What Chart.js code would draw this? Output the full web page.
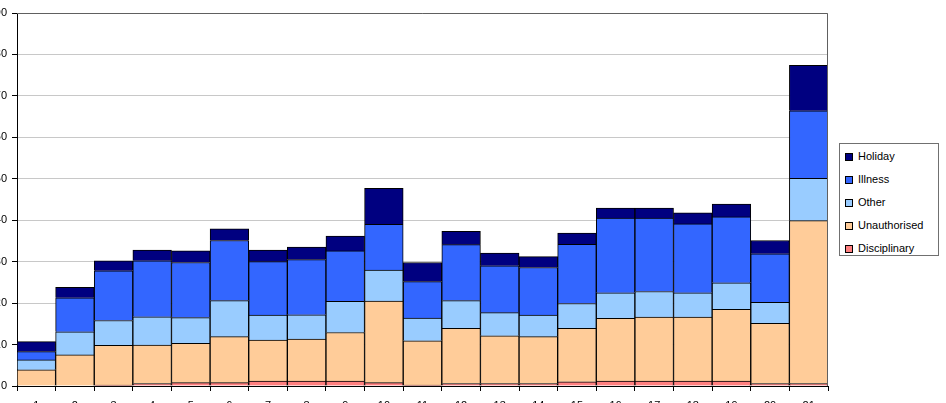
<!DOCTYPE html>
<html>
<head>
<meta charset="utf-8">
<script src="https://cdn.jsdelivr.net/npm/chart.js@4.4.0/dist/chart.umd.min.js"></script>
<style>
  html, body { margin: 0; padding: 0; background: #fff; }
  #wrap { position: relative; width: 946px; height: 403px; overflow: hidden; background: #fff; }
  #wrap canvas { position: absolute; left: -30px; top: 0; }
  #legend { position: absolute; left: 839px; top: 143px; width: 100px; height: 113px; border: 1px solid #707070; background: #fff;
            font: 11px "Liberation Sans", Arial, sans-serif; color: #000; box-sizing: border-box; padding-top: 6px; }
  #legend div { height: 23px; line-height: 13px; display: flex; align-items: flex-start; }
  #legend span.sw { display: inline-block; width: 6px; height: 6px; border: 1px solid #000; margin: 3px 5px 0 5px; }
</style>
</head>
<body>
<div id="wrap">
  <canvas id="chart" width="976" height="430"></canvas>
  <div id="legend"></div>
</div>
<script>
const categories = ['1','2','3','4','5','6','7','8','9','10','11','12','13','14','15','16','17','18','19','20','21'];
const disciplinary = [0, 0, 0.2, 0.6, 0.8, 0.8, 1.2, 1.2, 1.2, 0.8, 0.2, 0.6, 0.6, 0.6, 1.0, 1.2, 1.2, 1.2, 1.2, 0.6, 0.6];
const unauthorised = [3.9, 7.5, 9.6, 9.3, 9.5, 11.1, 9.9, 10.1, 11.7, 19.7, 10.7, 13.3, 11.5, 11.3, 12.9, 15.1, 15.4, 15.4, 17.3, 14.5, 39.3];
const other = [2.4, 5.6, 6.0, 6.8, 6.2, 8.7, 6.0, 5.9, 7.5, 7.5, 5.5, 6.7, 5.6, 5.2, 6.0, 6.2, 6.2, 5.9, 6.4, 5.1, 10.2];
const illness = [2.0, 8.2, 12.0, 13.5, 13.3, 14.5, 12.9, 13.3, 12.2, 11.0, 8.8, 13.5, 11.3, 11.5, 14.3, 18.0, 17.7, 16.6, 15.9, 11.7, 16.3];
const holiday = [2.4, 2.5, 2.4, 2.6, 2.8, 2.8, 2.8, 3.0, 3.6, 8.7, 4.6, 3.2, 3.1, 2.6, 2.7, 2.4, 2.4, 2.7, 3.1, 3.2, 11.0];
const yTicks = [0, 10, 20, 30, 40, 50, 60, 70, 80, 90];

const series = [
  { label: 'Disciplinary', data: disciplinary, color: '#FF8080' },
  { label: 'Unauthorised', data: unauthorised, color: '#FFCC99' },
  { label: 'Other', data: other, color: '#99CCFF' },
  { label: 'Illness', data: illness, color: '#3366FF' },
  { label: 'Holiday', data: holiday, color: '#000080' },
];

// gray frame on top and right of the plot area, like the spreadsheet chart
const plotBorder = {
  id: 'plotBorder',
  afterDraw(chart) {
    const { ctx, chartArea: a } = chart;
    ctx.save();
    ctx.strokeStyle = '#606060';
    ctx.lineWidth = 1;
    ctx.beginPath();
    ctx.moveTo(a.left, Math.round(a.top) + 0.5);
    ctx.lineTo(Math.round(a.right) - 0.5, Math.round(a.top) + 0.5);
    ctx.lineTo(Math.round(a.right) - 0.5, a.bottom);
    ctx.stroke();
    ctx.restore();
  }
};

Chart.defaults.font.family = '"Liberation Sans", Arial, sans-serif';
Chart.defaults.font.size = 11;
Chart.defaults.color = '#000';

new Chart(document.getElementById('chart'), {
  type: 'bar',
  data: {
    labels: categories,
    datasets: series.map(s => ({
      label: s.label, data: s.data, backgroundColor: s.color,
      borderColor: '#000', borderWidth: 1,
      barPercentage: 1, categoryPercentage: 1,
    })),
  },
  options: {
    responsive: false, animation: false,
    layout: { padding: { top: 13, right: 118, left: 0, bottom: 0 } },
    plugins: { legend: { display: false }, tooltip: { enabled: false } },
    scales: {
      x: {
        stacked: true,
        grid: { drawOnChartArea: false, offset: true, tickLength: 5, tickColor: '#000' },
        border: { color: '#000' },
        ticks: { padding: 8, maxRotation: 0 },
        afterFit: s => { s.height = 44; },
      },
      y: {
        stacked: true, min: 0, max: 90,
        afterBuildTicks: s => { s.ticks = yTicks.map(v => ({ value: v })); },
        grid: { color: '#c8c8c8', tickLength: 5, tickColor: '#000' },
        border: { color: '#000' },
        ticks: { padding: 5 },
        afterFit: s => { s.width = 47; },
      },
    },
  },
  plugins: [plotBorder],
});

const legend = document.getElementById('legend');
series.slice().reverse().forEach(s => {
  const row = document.createElement('div');
  row.innerHTML = '<span class="sw" style="background:' + s.color + '"></span>' + s.label;
  legend.appendChild(row);
});
</script>
</body>
</html>
